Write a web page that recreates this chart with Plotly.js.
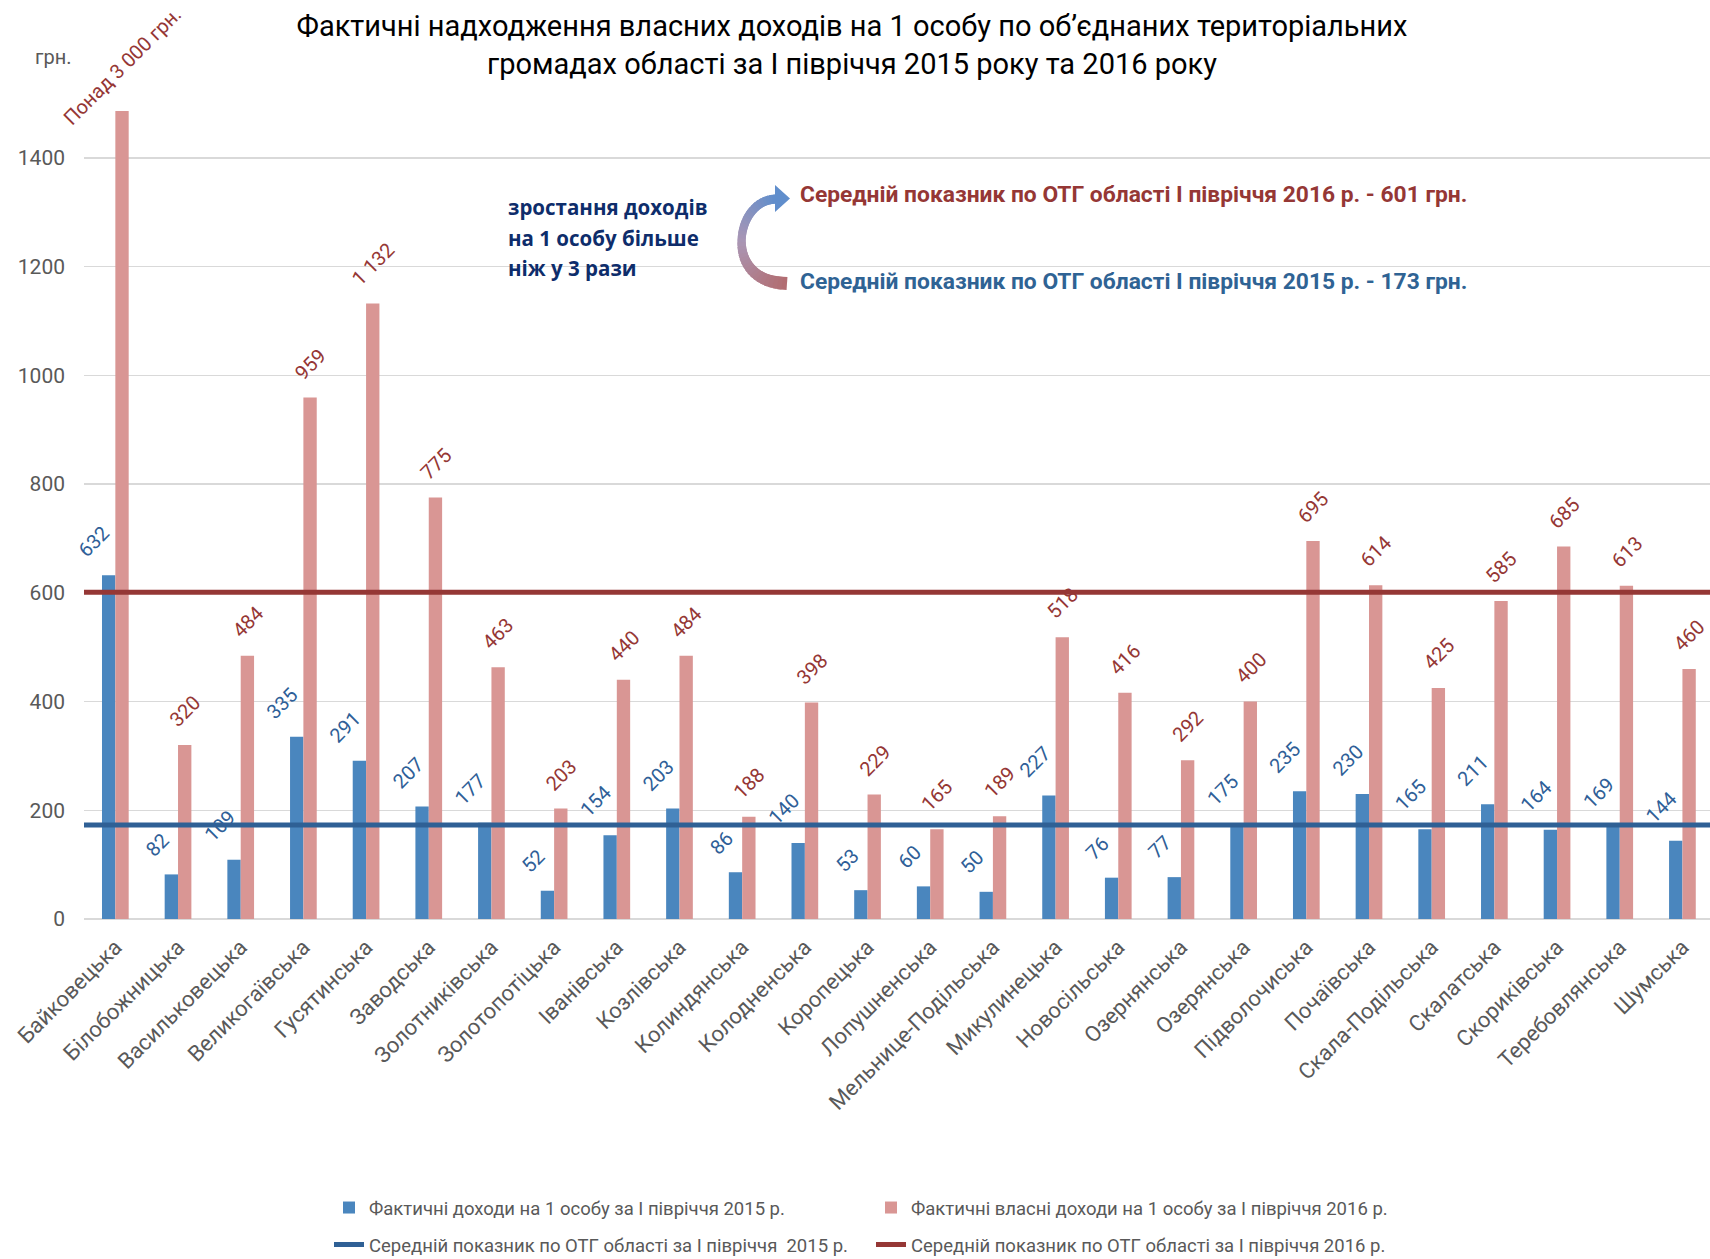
<!DOCTYPE html>
<html>
<head>
<meta charset="utf-8">
<script src="https://cdn.plot.ly/plotly-3.0.1.min.js"></script>
<style>
  html, body { margin: 0; padding: 0; background: #fff; overflow: hidden; }
  #chart { width: 1710px; height: 1259px; }
</style>
</head>
<body>
<div id="chart"></div>
<script>
// ---------------- DATA ----------------
const categories = [
  "Байковецька", "Білобожницька", "Васильковецька", "Великогаївська", "Гусятинська",
  "Заводська", "Золотниківська", "Золотопотіцька", "Іванівська", "Козлівська",
  "Колиндянська", "Колодненська", "Коропецька", "Лопушненська", "Мельнице-Подільська",
  "Микулинецька", "Новосільська", "Озернянська", "Озерянська", "Підволочиська",
  "Почаївська", "Скала-Подільська", "Скалатська", "Скориківська", "Теребовлянська", "Шумська"
];
const income2015 = [632, 82, 109, 335, 291, 207, 177, 52, 154, 203, 86, 140, 53, 60, 50,
                    227, 76, 77, 175, 235, 230, 165, 211, 164, 169, 144];
const income2016 = [3000, 320, 484, 959, 1132, 775, 463, 203, 440, 484, 188, 398, 229, 165, 189,
                    518, 416, 292, 400, 695, 614, 425, 585, 685, 613, 460];
const average2015 = [173, 173];
const average2016 = [601, 601];
const yTickValues = [0, 200, 400, 600, 800, 1000, 1200, 1400];
const seriesNames = [
  "Фактичні доходи на 1 особу за І півріччя 2015 р.",
  "Фактичні власні доходи на 1 особу за І півріччя 2016 р.",
  "Середній показник по ОТГ області за І півріччя  2015 р.",
  "Середній показник по ОТГ області за І півріччя 2016 р."
];
const titleText = "Фактичні надходження власних доходів на 1 особу по об’єднаних територіальних<br>громадах області за І півріччя 2015 року та 2016 року";
const growthNote = ["зростання доходів", "на 1 особу більше", "ніж у 3 рази"];
const avgNote2016 = "Середній показник по ОТГ області І півріччя 2016 р. - 601 грн.";
const avgNote2015 = "Середній показник по ОТГ області І півріччя 2015 р. - 173 грн.";
const unitLabel = "грн.";

// ---------------- STYLE ----------------
const W = 1710, H = 1259;
const M = { l: 84, r: 0, t: 111, b: 340 };
const PW = W - M.l - M.r, PH = H - M.t - M.b;
const Y_MAX = 1486;
const FONT = "Roboto, 'Liberation Sans', sans-serif";
const C15 = "#4a86be", C16 = "#d99694";
const LINE15 = "#2f6095", LINE16 = "#953735";
const LBL15 = "#2f5f98", LBL16 = "#953735";
const GRAY = "#595959";

const fmt = v => String(v).replace(/\B(?=(\d{3})+(?!\d))/g, " ");
const px = x => (x - M.l) / PW;          // pixel -> paper x
const py = y => (M.t + PH - y) / PH;     // pixel -> paper y

// ---------------- TRACES ----------------
const traces = [
  { type: "bar", name: seriesNames[0], x: categories, y: income2015,
    marker: { color: C15, line: { width: 0 } }, legend: "legend", hoverinfo: "x+y" },
  { type: "bar", name: seriesNames[1], x: categories, y: income2016,
    marker: { color: C16, line: { width: 0 } }, legend: "legend", hoverinfo: "x+y" },
  { type: "scatter", mode: "lines", name: seriesNames[2], x: [0, 1], y: average2015,
    xaxis: "x2", yaxis: "y", line: { color: LINE15, width: 5 }, legend: "legend2" },
  { type: "scatter", mode: "lines", name: seriesNames[3], x: [0, 1], y: average2016,
    xaxis: "x2", yaxis: "y", line: { color: LINE16, width: 5 }, legend: "legend2" }
];

// ---------------- ANNOTATIONS ----------------
const annotations = [];
const labelFont = (c) => ({ family: FONT, size: 20, color: c });
categories.forEach((cat, i) => {
  annotations.push({
    x: cat, y: income2015[i], xref: "x", yref: "y", text: fmt(income2015[i]),
    showarrow: false, textangle: -45, xanchor: "center", yanchor: "bottom",
    xshift: -21, yshift: 12, font: labelFont(LBL15), borderpad: 0
  });
  const v = income2016[i];
  if (v > Y_MAX) {
    annotations.push({
      x: cat, y: 1, xref: "x", yref: "paper", text: "Понад " + fmt(v) + " грн.",
      showarrow: false, textangle: -45, xanchor: "center", yanchor: "middle",
      xshift: 7, yshift: 45, font: labelFont(LBL16), borderpad: 0
    });
  } else {
    annotations.push({
      x: cat, y: v, xref: "x", yref: "y", text: fmt(v),
      showarrow: false, textangle: -45, xanchor: "center", yanchor: "bottom",
      xshift: 7, yshift: 12, font: labelFont(LBL16), borderpad: 0
    });
  }
});
annotations.push({
  xref: "paper", yref: "paper", x: px(33), y: py(57), xanchor: "left", yanchor: "middle",
  text: unitLabel, showarrow: false, font: { family: FONT, size: 20, color: GRAY }
});
const noteY = [207, 238, 268];
growthNote.forEach((t, k) => annotations.push({
  xref: "paper", yref: "paper", x: px(506), y: py(noteY[k]), xanchor: "left", yanchor: "middle",
  text: "<b>" + t + "</b>", showarrow: false,
  font: { family: "'Open Sans', sans-serif", size: 20.5, color: "#0e2d6b" }
}));
annotations.push({
  xref: "paper", yref: "paper", x: px(798), y: py(194), xanchor: "left", yanchor: "middle",
  text: "<b>" + avgNote2016 + "</b>", showarrow: false,
  font: { family: FONT, size: 22.8, color: LINE16 }
});
annotations.push({
  xref: "paper", yref: "paper", x: px(798), y: py(281), xanchor: "left", yanchor: "middle",
  text: "<b>" + avgNote2015 + "</b>", showarrow: false,
  font: { family: FONT, size: 22.8, color: "#2f6394" }
});

// ---------------- CURVED GRADIENT ARROW (decoration) ----------------
const shapes = [];
function bez(p0, p1, p2, p3, t) {
  const u = 1 - t;
  return [
    u*u*u*p0[0] + 3*u*u*t*p1[0] + 3*u*t*t*p2[0] + t*t*t*p3[0],
    u*u*u*p0[1] + 3*u*u*t*p1[1] + 3*u*t*t*p2[1] + t*t*t*p3[1]
  ];
}
const pts = [];
const N = 18;
for (let k = 0; k <= N; k++) pts.push(bez([787, 283.5], [758, 283.5], [741.5, 266], [741.5, 242], k / N));
for (let k = 1; k <= N; k++) pts.push(bez([741.5, 242], [741.5, 219], [756, 199], [776, 199], k / N));
const stops = [[0, [178, 108, 112], 13], [0.5, [170, 150, 180], 8], [1, [96, 142, 204], 9]];
function interp(s) {
  let a = stops[0], b = stops[1];
  if (s > 0.5) { a = stops[1]; b = stops[2]; }
  const f = (s - a[0]) / (b[0] - a[0]);
  const c = a[1].map((v, j) => Math.round(v + (b[1][j] - v) * f));
  return { color: `rgb(${c[0]},${c[1]},${c[2]})`, width: a[2] + (b[2] - a[2]) * f };
}
for (let k = 0; k < pts.length - 1; k++) {
  const s = (k + 0.5) / (pts.length - 1);
  const st = interp(s);
  const a = pts[k], b = pts[Math.min(k + 2, pts.length - 1)];
  shapes.push({
    type: "path", xref: "paper", yref: "paper", layer: "above",
    path: `M ${px(a[0])},${py(a[1])} L ${px(b[0])},${py(b[1])}`,
    line: { color: st.color, width: st.width }
  });
}
shapes.push({
  type: "path", xref: "paper", yref: "paper", layer: "above",
  path: `M ${px(775)},${py(185)} L ${px(790)},${py(198.5)} L ${px(775)},${py(212)} Z`,
  fillcolor: "rgb(96,142,204)", line: { width: 0 }
});

// ---------------- LAYOUT ----------------
const legendCommon = {
  orientation: "h", xref: "container", yref: "container", xanchor: "left", yanchor: "middle",
  entrywidth: 497, entrywidthmode: "pixels", bgcolor: "rgba(0,0,0,0)",
  font: { family: FONT, size: 18.5, color: GRAY }, traceorder: "normal"
};
const layout = {
  width: W, height: H,
  margin: M,
  paper_bgcolor: "#fff", plot_bgcolor: "#fff",
  font: { family: FONT, color: GRAY },
  title: {
    text: titleText, xref: "container", yref: "container",
    x: 852 / W, xanchor: "center", y: 1 - 36 / H, yanchor: "middle",
    font: { family: FONT, size: 29, color: "#000" }
  },
  barmode: "group", bargap: 0.574, bargroupgap: 0,
  xaxis: {
    type: "category", range: [-0.5, 25.44], tickangle: -45,
    tickfont: { family: FONT, size: 22, color: GRAY },
    showgrid: false, showline: false, ticks: "", automargin: false,
    ticklabelstandoff: 10
  },
  xaxis2: { overlaying: "x", range: [0, 1], visible: false, fixedrange: true },
  yaxis: {
    range: [0, Y_MAX], tickvals: yTickValues, tickformat: "d",
    tickfont: { family: FONT, size: 21, color: GRAY },
    showgrid: true, gridcolor: "#d9d9d9", gridwidth: 1.5,
    zeroline: true, zerolinecolor: "#d9d9d9", zerolinewidth: 2,
    showline: false, ticks: "", ticklabelstandoff: 18, automargin: false
  },
  showlegend: true,
  legend: Object.assign({}, legendCommon, { x: 329 / W, y: 1 - 1208 / H }),
  legend2: Object.assign({}, legendCommon, { x: 329 / W, y: 1 - 1245 / H }),
  annotations: annotations,
  shapes: shapes
};

Plotly.newPlot("chart", traces, layout, { displayModeBar: false, staticPlot: true });
</script>
</body>
</html>
